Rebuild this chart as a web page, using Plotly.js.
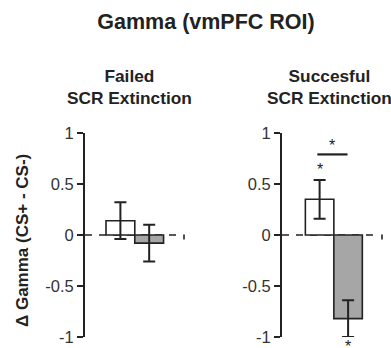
<!DOCTYPE html>
<html>
<head>
<meta charset="utf-8">
<script src="https://cdn.plot.ly/plotly-3.0.1.min.js"></script>
<style>html,body{margin:0;padding:0;background:#fff;}#chart{width:391px;height:348px;}</style>
</head>
<body>
<div id="chart"></div>
<script>
// ---- data ----
const conditions = ['CS+', 'CS-'];
const groupTitles = ['Failed<br>SCR Extinction', 'Succesful<br>SCR Extinction'];
const failedMeans = [0.14, -0.08];
const failedErrors = [0.18, 0.18];
const successMeans = [0.35, -0.82];
const successErrors = [0.19, 0.18];
const tickValues = [-1, -0.5, 0, 0.5, 1];
const tickLabels = ['-1', '-0.5', '0', '0.5', '1'];
const chartTitle = 'Gamma (vmPFC ROI)';
const yTitle = 'Δ Gamma (CS+ - CS-)';

// ---- style ----
const W = 391, H = 348;
const FONT = 'Liberation Sans, Arial, Helvetica, sans-serif';
const INK = '#222';
const barColors = ['#ffffff', '#a6a6a6'];
const px = v => v / W, py = v => 1 - v / H;

function barTrace(means, errs, xa, ya) {
  return {
    type: 'bar', x: conditions, y: means, xaxis: xa, yaxis: ya,
    width: 1,
    marker: {color: barColors, line: {color: INK, width: 1.6}},
    error_y: {type: 'data', array: errs, visible: true, color: INK, thickness: 2, width: 6},
    hoverinfo: 'skip'
  };
}

const data = [
  barTrace(failedMeans, failedErrors, 'x', 'y'),
  barTrace(successMeans, successErrors, 'x2', 'y2')
];

const yBase = {
  domain: [py(337), py(133)], range: [-1, 1],
  tickvals: tickValues, ticktext: tickLabels,
  showline: true, linewidth: 2, linecolor: INK,
  ticks: 'outside', ticklen: 6, tickwidth: 1.5, tickcolor: INK,
  showgrid: false, zeroline: false, fixedrange: true,
  tickfont: {family: FONT, size: 16.5, color: '#333'},
  ticklabelstandoff: 0
};

function zeroShapes(xa, ya) {
  return [
    {type: 'line', xref: xa + ' domain', yref: ya, x0: 0, x1: 0.93, y0: 0, y1: 0,
     line: {color: INK, width: 1.6, dash: '7px,7px'}, layer: 'below'},
    {type: 'line', xref: xa + ' domain', yref: ya, x0: 1, x1: 1, y0: 0.005, y1: -0.045,
     line: {color: INK, width: 1.6}, layer: 'below'}
  ];
}

const layout = {
  width: W, height: H,
  margin: {l: 0, r: 0, t: 0, b: 0},
  paper_bgcolor: '#fff', plot_bgcolor: 'rgba(0,0,0,0)',
  showlegend: false, bargap: 0,
  font: {family: FONT, color: INK},
  title: {text: '<b>' + chartTitle + '</b>', x: px(206), xanchor: 'center', xref: 'paper',
          y: py(21), yanchor: 'middle', yref: 'paper',
          font: {family: FONT, size: 21.5, color: INK}},
  xaxis: {domain: [px(85), px(184)], range: [-1.23, 2.21], type: 'category', visible: false, fixedrange: true},
  xaxis2: {domain: [px(282), px(382)], range: [-1.32, 2.19], type: 'category', visible: false, fixedrange: true},
  yaxis: Object.assign({}, yBase, {anchor: 'x'}),
  yaxis2: Object.assign({}, yBase, {anchor: 'x2'}),
  shapes: zeroShapes('x', 'y').concat(zeroShapes('x2', 'y2')).concat([
    {type: 'line', xref: 'x2', yref: 'y2', x0: -0.08, x1: 0.98, y0: 0.79, y1: 0.79,
     line: {color: INK, width: 2.2}}
  ]),
  annotations: [
    {text: '<b>' + groupTitles[0] + '</b>', xref: 'paper', yref: 'paper', x: px(129), y: py(87.5),
     xanchor: 'center', yanchor: 'middle', showarrow: false,
     font: {family: FONT, size: 17.3, color: INK}},
    {text: '<b>' + groupTitles[1] + '</b>', xref: 'paper', yref: 'paper', x: px(329), y: py(87.5),
     xanchor: 'center', yanchor: 'middle', showarrow: false,
     font: {family: FONT, size: 17.3, color: INK}},
    {text: '<b>' + yTitle + '</b>', xref: 'paper', yref: 'paper', x: px(22), y: py(241),
     xanchor: 'center', yanchor: 'middle', textangle: -90, showarrow: false,
     font: {family: FONT, size: 17, color: INK}},
    {text: '*', xref: 'x2', yref: 'y2', x: 0.45, y: 0.875, showarrow: false,
     xanchor: 'center', yanchor: 'middle', font: {family: FONT, size: 16, color: INK}},
    {text: '*', xref: 'x2', yref: 'y2', x: 0, y: 0.64, showarrow: false,
     xanchor: 'center', yanchor: 'middle', font: {family: FONT, size: 16, color: INK}},
    {text: '*', xref: 'x2', yref: 'paper', x: 1, y: py(335.5), showarrow: false,
     xanchor: 'center', yanchor: 'top', font: {family: FONT, size: 16, color: INK}}
  ]
};

Plotly.newPlot('chart', data, layout, {displayModeBar: false, staticPlot: true});
</script>
</body>
</html>
